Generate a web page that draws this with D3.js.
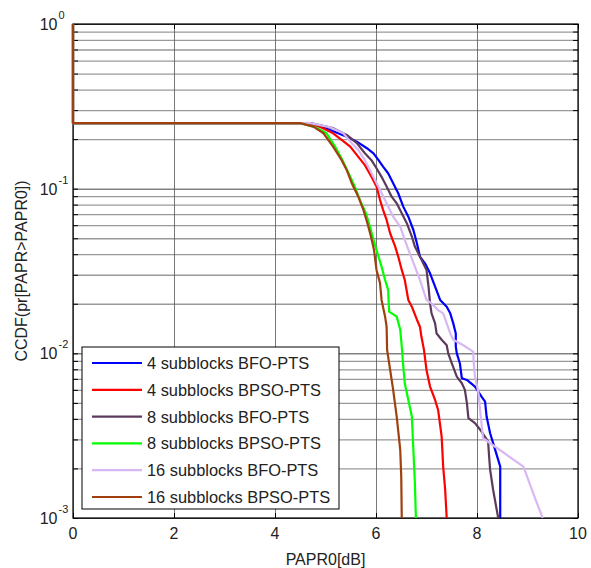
<!DOCTYPE html>
<html lang="en">
<head>
  <meta charset="UTF-8">
  <title>CCDF of PAPR</title>
  <style>
    body, html {
      margin: 0;
      padding: 0;
      background-color: #fff;
    }
    #svg text {
      font-family: "Liberation Sans", Arial, sans-serif;
      fill: #222;
    }
  </style>
</head>
<body>
  <svg id="svg" width="591" height="568"></svg>
  <script src="https://d3js.org/d3.v7.min.js"></script>
  <script>
    // tick values
    const xTicks = [0, 2, 4, 6, 8, 10]
    const yDecades = [1e-3, 1e-2, 1e-1, 1]
    const yExponents = ['-3', '-2', '-1', '0']

    const seriesNames = [
      '4 subblocks BFO-PTS',
      '4 subblocks BPSO-PTS',
      '8 subblocks BFO-PTS',
      '8 subblocks BPSO-PTS',
      '16 subblocks BFO-PTS',
      '16 subblocks BPSO-PTS'
    ]

    // [PAPR0 (dB), CCDF]
    const bfo4 = [[0, 1], [0, 0.25], [4.7, 0.25], [5.09, 0.227], [5.42, 0.207], [5.62, 0.193], [5.82, 0.176], [5.95, 0.164],
      [6.05, 0.149], [6.14, 0.136], [6.24, 0.124], [6.34, 0.108], [6.44, 0.0938], [6.54, 0.0778], [6.64, 0.0676],
      [6.74, 0.0561], [6.81, 0.0466], [6.87, 0.0387], [6.97, 0.0352], [7.07, 0.0306], [7.17, 0.0254], [7.27, 0.0211],
      [7.40, 0.0192], [7.47, 0.0175], [7.53, 0.0152], [7.58, 0.0132], [7.58, 0.0110], [7.60, 0.0100], [7.66, 0.00871],
      [7.70, 0.00706], [7.80, 0.00689], [7.96, 0.00628], [8.09, 0.00546], [8.16, 0.00509], [8.19, 0.00413],
      [8.26, 0.00327], [8.36, 0.00259], [8.46, 0.00205], [8.46, 0.001]]

    const bpso4 = [[0, 1], [0, 0.25], [4.6, 0.25], [4.89, 0.238], [5.15, 0.217], [5.32, 0.198], [5.49, 0.18], [5.65, 0.156],
      [5.78, 0.139], [5.91, 0.118], [6.01, 0.103], [6.08, 0.0854], [6.14, 0.0743], [6.21, 0.0646], [6.28, 0.0536],
      [6.38, 0.0445], [6.44, 0.0387], [6.51, 0.0321], [6.57, 0.0279], [6.64, 0.0211], [6.71, 0.0192], [6.81, 0.016],
      [6.87, 0.0145], [6.90, 0.0126], [6.95, 0.0105], [7.0, 0.00793], [7.07, 0.00628], [7.17, 0.00521], [7.23, 0.00453],
      [7.30, 0.00312], [7.33, 0.00205], [7.37, 0.00148], [7.40, 0.001]]

    const bfo8 = [[0, 1], [0, 0.25], [4.7, 0.25], [5.15, 0.233], [5.42, 0.212], [5.62, 0.189], [5.78, 0.164], [5.91, 0.149],
      [6.01, 0.133], [6.11, 0.118], [6.21, 0.103], [6.31, 0.0894], [6.41, 0.0815], [6.51, 0.0709], [6.61, 0.0617],
      [6.71, 0.0512], [6.77, 0.0445], [6.87, 0.0387], [7.0, 0.0321], [7.04, 0.0254], [7.07, 0.0201], [7.10, 0.0175],
      [7.17, 0.0152], [7.20, 0.0132], [7.30, 0.0121], [7.40, 0.0112], [7.43, 0.01], [7.50, 0.00871], [7.60, 0.00722],
      [7.70, 0.00658], [7.76, 0.006], [7.80, 0.00498], [7.83, 0.00404], [7.96, 0.00377], [8.09, 0.00335],
      [8.22, 0.00291], [8.24, 0.00236], [8.26, 0.00196], [8.32, 0.00148], [8.42, 0.001]]

    const bpso8 = [[0, 1], [0, 0.25], [4.5, 0.25], [4.8, 0.236], [5.02, 0.217], [5.19, 0.18], [5.35, 0.146], [5.49, 0.118],
      [5.58, 0.103], [5.68, 0.0854], [5.80, 0.0709], [5.88, 0.0588], [5.95, 0.0489], [6.03, 0.0405], [6.11, 0.0336],
      [6.18, 0.0279], [6.24, 0.0243], [6.26, 0.0179], [6.41, 0.0167], [6.48, 0.0139], [6.51, 0.011], [6.54, 0.0083],
      [6.57, 0.00658], [6.64, 0.00521], [6.71, 0.00413], [6.74, 0.00259], [6.77, 0.00163], [6.79, 0.001]]

    const bfo16 = [[0, 1], [0, 0.25], [4.7, 0.25], [5.09, 0.236], [5.35, 0.217], [5.52, 0.189], [5.65, 0.172], [5.78, 0.149],
      [5.88, 0.13], [5.98, 0.113], [6.08, 0.0982], [6.21, 0.0815], [6.34, 0.0676], [6.48, 0.0588], [6.57, 0.0489],
      [6.67, 0.0405], [6.77, 0.0336], [6.87, 0.0279], [7.0, 0.0211], [7.10, 0.0201], [7.23, 0.0183], [7.33, 0.0175],
      [7.40, 0.0152], [7.47, 0.0132], [7.53, 0.0121], [7.73, 0.0112], [7.93, 0.0102], [7.93, 0.00912], [7.96, 0.00722],
      [8.03, 0.00573], [8.06, 0.00453], [8.12, 0.00305], [8.92, 0.00205], [9.11, 0.00142], [9.30, 0.001]]

    const bpso16 = [[0, 1], [0, 0.25], [4.5, 0.25], [4.76, 0.238], [4.96, 0.217], [5.15, 0.18], [5.32, 0.149], [5.42, 0.13],
      [5.52, 0.108], [5.65, 0.0894], [5.75, 0.0743], [5.83, 0.0617], [5.90, 0.0512], [5.96, 0.0425], [6.01, 0.0321],
      [6.08, 0.0267], [6.11, 0.0211], [6.18, 0.0167], [6.21, 0.0145], [6.22, 0.0105], [6.28, 0.00793], [6.34, 0.006],
      [6.41, 0.00413], [6.48, 0.00259], [6.50, 0.00178], [6.51, 0.001]]

    const allSeries = [bfo4, bpso4, bfo8, bpso8, bfo16, bpso16]
    const colors = ['#0000ff', '#ff0000', '#5c3a5c', '#00ff00', '#d8b8f4', '#a0400f']

    const pLeft = 73
    const pRight = 578
    const pTop = 24
    const pBottom = 518

    const xScale = d3.scaleLinear()
      .domain([0, 10])
      .range([pLeft, pRight])
    const yScale = d3.scaleLog()
      .domain([1e-3, 1])
      .range([pBottom, pTop])

    // all minor + major log positions
    const yMinor = []
    yDecades.slice(0, 3).forEach(d => {
      for (let k = 1; k < 10; k++) yMinor.push(d * k)
    })
    yMinor.push(1)

    const svg = d3.select('#svg')

    svg.append('defs').append('clipPath')
      .attr('id', 'clip')
      .append('rect')
      .attr('x', pLeft - 2)
      .attr('y', pTop)
      .attr('width', pRight - pLeft + 2)
      .attr('height', pBottom - pTop)

    // grid lines
    const hGrid = svg.append('g')
      .attr('transform', `translate(${pLeft}, 0)`)
      .call(d3.axisLeft(yScale).tickValues(yMinor).tickSize(-(pRight - pLeft)).tickFormat(''))
    hGrid.select('.domain').remove()
    hGrid.selectAll('line')
      .attr('stroke', d => yDecades.includes(d) ? '#444' : '#999')
      .attr('stroke-width', d => yDecades.includes(d) ? 1 : 1.3)

    const vGrid = svg.append('g')
      .attr('transform', `translate(0, ${pBottom})`)
      .call(d3.axisBottom(xScale).tickValues(xTicks).tickSize(-(pBottom - pTop)).tickFormat(''))
    vGrid.select('.domain').remove()
    vGrid.selectAll('line')
      .attr('stroke', '#555')
      .attr('stroke-width', 0.8)

    // box + inner ticks
    svg.append('rect')
      .attr('x', pLeft)
      .attr('y', pTop)
      .attr('width', pRight - pLeft)
      .attr('height', pBottom - pTop)
      .attr('fill', 'none')
      .attr('stroke', '#000')
      .attr('stroke-width', 1.2)

    const tickAxes = [
      [d3.axisBottom(xScale).tickValues(xTicks).tickSize(-5), `translate(0, ${pBottom})`],
      [d3.axisTop(xScale).tickValues(xTicks).tickSize(-5), `translate(0, ${pTop})`],
      [d3.axisLeft(yScale).tickValues(yMinor).tickSize(-5), `translate(${pLeft}, 0)`],
      [d3.axisRight(yScale).tickValues(yMinor).tickSize(-5), `translate(${pRight}, 0)`]
    ]
    tickAxes.forEach(([ax, tr]) => {
      const g = svg.append('g')
        .attr('transform', tr)
        .call(ax.tickFormat(''))
      g.select('.domain').remove()
      g.selectAll('line').attr('stroke', '#000')
    })

    // curves
    const line = d3.line()
      .x(d => xScale(d[0]))
      .y(d => yScale(d[1]))

    svg.append('g')
      .attr('clip-path', 'url(#clip)')
      .selectAll('path')
      .data(allSeries)
      .enter()
      .append('path')
      .attr('d', line)
      .attr('fill', 'none')
      .attr('stroke', (d, i) => colors[i])
      .attr('stroke-width', 2.2)
      .attr('stroke-linejoin', 'round')

    // x tick labels
    svg.append('g')
      .selectAll('text')
      .data(xTicks)
      .enter()
      .append('text')
      .attr('x', d => xScale(d))
      .attr('y', pBottom + 21)
      .attr('text-anchor', 'middle')
      .style('font-size', '16px')
      .text(d => d)

    // y tick labels 10^n
    const yLab = svg.append('g')
      .selectAll('g')
      .data(yDecades)
      .enter()
      .append('g')
    yLab.append('text')
      .attr('x', 57.5)
      .attr('y', d => yScale(d) + 6)
      .attr('text-anchor', 'end')
      .style('font-size', '16px')
      .text('10')
    yLab.append('text')
      .attr('x', 58.5)
      .attr('y', d => yScale(d) - 5)
      .style('font-size', '11px')
      .text((d, i) => yExponents[i])

    // axis titles
    svg.append('text')
      .attr('x', (pLeft + pRight) / 2)
      .attr('y', 565)
      .attr('text-anchor', 'middle')
      .style('font-size', '16px')
      .text('PAPR0[dB]')

    svg.append('text')
      .attr('transform', `translate(27, ${(pTop + pBottom) / 2}) rotate(-90)`)
      .attr('text-anchor', 'middle')
      .style('font-size', '16px')
      .text('CCDF(pr[PAPR>PAPR0])')

    // legend
    const legend = svg.append('g')
      .attr('transform', 'translate(82, 347)')
    legend.append('rect')
      .attr('width', 257)
      .attr('height', 162)
      .attr('fill', '#fff')
      .attr('stroke', '#000')
      .attr('stroke-width', 1)
    const rows = legend.selectAll('g')
      .data(seriesNames)
      .enter()
      .append('g')
      .attr('transform', (d, i) => `translate(0, ${16 + i * 26.8})`)
    rows.append('line')
      .attr('x1', 10)
      .attr('x2', 60)
      .attr('stroke', (d, i) => colors[i])
      .attr('stroke-width', 2.2)
    rows.append('text')
      .attr('x', 65)
      .attr('y', 6)
      .style('font-size', '16.4px')
      .text(d => d)
  </script>
</body>
</html>
